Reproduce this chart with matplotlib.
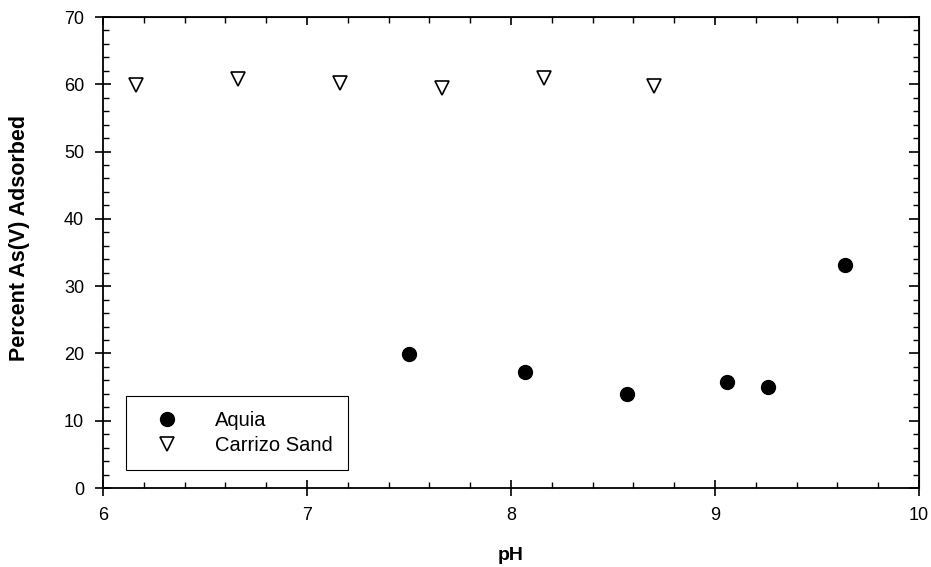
import numpy as np
import matplotlib
matplotlib.use("Agg")
import matplotlib.pyplot as plt
from matplotlib.ticker import MultipleLocator

plt.rcParams['font.family'] = ['Liberation Sans', 'DejaVu Sans']

# Aquia
aquia_ph = [7.50, 8.07, 8.57, 9.06, 9.26, 9.64]
aquia_ads = [19.9, 17.3, 14.0, 15.7, 15.0, 33.2]

# Carrizo Sand
carrizo_ph = [6.16, 6.66, 7.16, 7.66, 8.16, 8.70]
carrizo_ads = [59.9, 60.8, 60.2, 59.5, 60.9, 59.7]

fig = plt.figure(figsize=(9.31, 5.67), dpi=100)
ax = fig.add_axes([0.1106, 0.1393, 0.8764, 0.8307])

ax.plot(aquia_ph, aquia_ads, 'o', color='black', markersize=10,
        linestyle='none', label='Aquia')
ax.plot(carrizo_ph, carrizo_ads, 'v', markerfacecolor='white',
        markeredgecolor='black', markeredgewidth=1.2, markersize=9.5,
        linestyle='none', label='Carrizo Sand')

ax.set_xlim(6, 10)
ax.set_ylim(0, 70)
ax.xaxis.set_major_locator(MultipleLocator(1))
ax.xaxis.set_minor_locator(MultipleLocator(0.2))
ax.yaxis.set_major_locator(MultipleLocator(10))
ax.yaxis.set_minor_locator(MultipleLocator(2))

ax.tick_params(which='major', direction='inout', length=11, width=1.2,
               labelsize=13, pad=8)
ax.tick_params(which='minor', direction='in', length=4, width=1.0)
for s in ax.spines.values():
    s.set_linewidth(1.3)

# ticks on top and right, pointing inward
top = ax.secondary_xaxis('top')
top.xaxis.set_major_locator(MultipleLocator(1))
top.xaxis.set_minor_locator(MultipleLocator(0.2))
top.tick_params(which='major', direction='in', length=6, width=1.2, labeltop=False)
top.tick_params(which='minor', direction='in', length=4, width=1.0)
right = ax.secondary_yaxis('right')
right.yaxis.set_major_locator(MultipleLocator(10))
right.yaxis.set_minor_locator(MultipleLocator(2))
right.tick_params(which='major', direction='in', length=7, width=1.2, labelright=False)
right.tick_params(which='minor', direction='in', length=4, width=1.0)

ax.set_xlabel('pH', fontsize=14, fontweight='bold', labelpad=17)
ax.set_ylabel('Percent As(V) Adsorbed', fontsize=15.5, fontweight='bold')
ax.yaxis.set_label_coords(-0.09, 0.53)

leg = ax.legend(loc='lower left', bbox_to_anchor=(0.028, 0.038), borderaxespad=0,
                fancybox=False, framealpha=1, edgecolor='black', fontsize=14.5,
                borderpad=0.75, handletextpad=1.1, labelspacing=0.3,
                handlelength=2.6)
leg.get_frame().set_linewidth(0.8)

fig.savefig('out.png', dpi=100)
